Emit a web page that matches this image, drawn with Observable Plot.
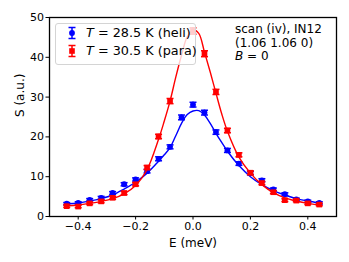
<!DOCTYPE html>
<html><head><meta charset="utf-8">
<script src="https://cdn.jsdelivr.net/npm/d3@7"></script>
<script src="https://cdn.jsdelivr.net/npm/@observablehq/plot@0.6"></script>
<style>
body{margin:0;background:#fff;}
#wrap{position:relative;width:349px;height:262px;font-family:"DejaVu Sans",sans-serif;color:#000;}
#legend{position:absolute;left:55px;top:23px;width:141px;height:42px;border:1px solid #d4d4d4;border-radius:3px;background:rgba(255,255,255,0.8);box-sizing:border-box;font-size:12.8px;}
#legend .row{position:absolute;left:0;height:16px;display:flex;align-items:center;white-space:nowrap;}
#legend svg{position:absolute;left:9px;top:0;}
#legend span{position:absolute;left:30px;line-height:16px;}
#note{position:absolute;left:235px;top:23px;font-size:12px;line-height:13.5px;white-space:nowrap;}
</style>
</head><body>
<div id="wrap">
  <div id="chart"></div>
  <div id="legend"></div>
  <div id="note"></div>
</div>
<script>
// ---- data ----
const eHeli = [-0.44,-0.40,-0.36,-0.32,-0.28,-0.24,-0.20,-0.16,-0.12,-0.08,-0.04,0.00,0.04,0.08,0.12,0.16,0.20,0.24,0.28,0.32,0.36,0.40,0.44];
const sHeli = [3.2,3.4,4.2,4.7,5.9,8.1,9.3,11.4,14.5,17.5,24.9,28.1,26.1,21.2,16.6,13.3,10.9,9.1,6.8,5.6,4.3,3.8,3.4];
const errHeli = [0.3,0.3,0.3,0.35,0.35,0.4,0.4,0.45,0.5,0.5,0.6,0.6,0.6,0.55,0.5,0.45,0.45,0.4,0.35,0.35,0.3,0.3,0.3];

const ePara = [-0.44,-0.40,-0.36,-0.32,-0.28,-0.24,-0.20,-0.16,-0.12,-0.08,0.00,0.04,0.08,0.12,0.16,0.20,0.24,0.28,0.32,0.36,0.40,0.44];
const sPara = [2.6,2.5,3.3,3.8,4.7,5.9,8.1,12.3,20.1,29.0,46.6,40.9,31.3,21.6,15.5,11.0,8.4,6.1,4.1,4.0,3.3,3.0];
const errPara = [0.3,0.3,0.3,0.35,0.35,0.4,0.4,0.5,0.55,0.65,0.8,0.75,0.65,0.55,0.5,0.45,0.4,0.35,0.35,0.3,0.3,0.3];

// fitted curves
const eFit = [-0.44,-0.40,-0.36,-0.32,-0.28,-0.24,-0.20,-0.16,-0.12,-0.10,-0.08,-0.06,-0.04,-0.02,0.00,0.02,0.04,0.06,0.08,0.10,0.12,0.16,0.20,0.24,0.28,0.32,0.36,0.40,0.44];
const fitHeli = [3.2,3.4,3.9,4.5,5.4,6.9,8.6,10.9,13.9,15.5,17.3,20.3,23.4,25.6,26.5,26.6,25.5,23.4,20.9,18.6,16.4,12.8,10.0,8.0,6.5,5.4,4.5,3.9,3.4];
const fitPara = [2.7,2.9,3.3,3.8,4.5,5.7,7.8,11.8,19.4,24.0,29.0,35.0,40.5,45.2,46.9,46.0,41.3,36.3,31.0,25.8,21.4,14.9,10.9,8.0,6.0,4.7,3.9,3.3,2.9];

const xTicks = [-0.4,-0.2,0.0,0.2,0.4];
const yTicks = [0,10,20,30,40,50];
const xLabel = "E (meV)";
const yLabel = "S (a.u.)";
const legendLabels = ["28.5 K (heli)", "30.5 K (para)"];
const noteLines = ["scan (iv), IN12", "(1.06 1.06 0)"];

// ---- build tables ----
const heli = eHeli.map((e,i)=>({E:e,S:sHeli[i],err:errHeli[i]}));
const para = ePara.map((e,i)=>({E:e,S:sPara[i],err:errPara[i]}));
const fitH = eFit.map((e,i)=>({E:e,S:fitHeli[i]}));
const fitP = eFit.map((e,i)=>({E:e,S:fitPara[i]}));

const cap = {draw(ctx,size){const w=Math.sqrt(size/Math.PI);ctx.moveTo(-w,0);ctx.lineTo(w,0);}};

function series(data, fit, color, symbol, r){
  return [
    Plot.ruleX(data,{x:"E",y1:d=>d.S-d.err,y2:d=>d.S+d.err,stroke:color,strokeWidth:1.5}),
    Plot.dot(data,{x:"E",y:d=>d.S+d.err,symbol:cap,r:3.5,stroke:color,strokeWidth:1.5,fill:"none"}),
    Plot.dot(data,{x:"E",y:d=>d.S-d.err,symbol:cap,r:3.5,stroke:color,strokeWidth:1.5,fill:"none"}),
    Plot.line(fit,{x:"E",y:"S",stroke:color,strokeWidth:1.4,curve:"catmull-rom"}),
    Plot.dot(data,{x:"E",y:"S",symbol,r,fill:color,stroke:"none"})
  ];
}

const fmt = d => d.toFixed(1).replace("-", "\u2212");

const chart = Plot.plot({
  width:349, height:262,
  marginLeft:49, marginRight:13, marginTop:17, marginBottom:46,
  x:{domain:[-0.5,0.5]},
  y:{domain:[0,50]},
  style:{fontFamily:"DejaVu Sans",fontSize:"11px",color:"black",background:"white"},
  marks:[
    Plot.axisX({ticks:xTicks,tickFormat:fmt,tickSize:3.5,tickPadding:2,label:null}),
    Plot.axisY({ticks:yTicks,tickFormat:d=>String(d),tickSize:3.5,tickPadding:2,label:null}),
    Plot.text([xLabel],{frameAnchor:"bottom",text:d=>d,dy:30,fontSize:12}),
    Plot.text([yLabel],{frameAnchor:"left",text:d=>d,rotate:-90,dx:-29,fontSize:12}),
    ...series(heli,fitH,"blue","circle",2.9),
    ...series(para,fitP,"red","square",3.2),
    Plot.frame({stroke:"black",strokeWidth:1.3})
  ]
});
document.getElementById("chart").appendChild(chart);

// ---- legend ----
const colors = ["blue","red"];
const shapes = ["circle","square"];
const leg = document.getElementById("legend");
legendLabels.forEach((lab,i)=>{
  const row = document.createElement("div");
  row.className="row";
  row.style.top = (1 + i*18.3) + "px";
  const c = colors[i];
  const mk = shapes[i]==="circle"
    ? `<circle cx="7" cy="8" r="2.9" fill="${c}"/>`
    : `<rect x="4.2" y="5.2" width="5.6" height="5.6" fill="${c}"/>`;
  row.innerHTML = `<svg width="14" height="16"><line x1="7" x2="7" y1="2.5" y2="13.5" stroke="${c}" stroke-width="1.5"/><line x1="3.5" x2="10.5" y1="2.5" y2="2.5" stroke="${c}" stroke-width="1.5"/><line x1="3.5" x2="10.5" y1="13.5" y2="13.5" stroke="${c}" stroke-width="1.5"/>${mk}</svg><span><i>T</i> = ${lab}</span>`;
  leg.appendChild(row);
});

// ---- annotation ----
document.getElementById("note").innerHTML = noteLines.join("<br>") + "<br><i>B</i> = 0";
</script>
</body></html>
